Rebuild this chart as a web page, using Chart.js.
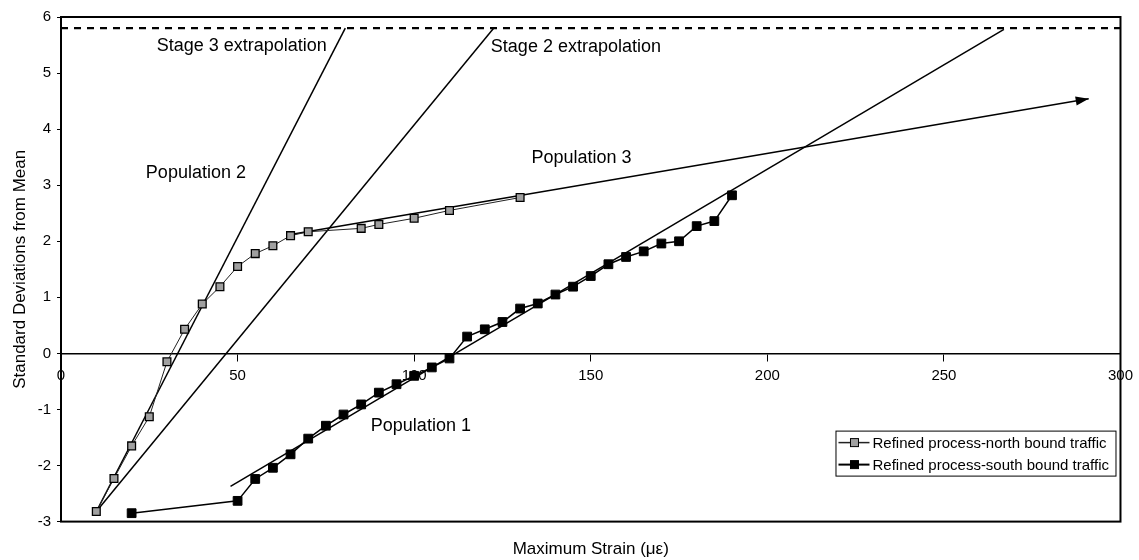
<!DOCTYPE html>
<html>
<head>
<meta charset="utf-8">
<script src="https://cdn.jsdelivr.net/npm/chart.js@4.4.1/dist/chart.umd.min.js"></script>
<style>
  html, body { margin: 0; padding: 0; background: #fff; }
  #wrap { width: 1139px; height: 560px; }
</style>
</head>
<body>
<div id="wrap"><canvas id="chart"></canvas></div>
<script>
/* **** DATA **** */

// refined process, north bound traffic
const northStrain = [10, 15, 20, 25, 30, 35, 40, 45, 50, 55, 60, 65, 70, 85, 90, 100, 110, 130];
const northSd = [-2.82, -2.23, -1.65, -1.13, -0.15, 0.43, 0.88, 1.19, 1.55, 1.78, 1.92, 2.10, 2.17, 2.23, 2.30, 2.41, 2.55, 2.78];

// refined process, south bound traffic
const southStrain = [20, 50, 55, 60, 65, 70, 75, 80, 85, 90, 95, 100, 105, 110, 115, 120, 125, 130, 135, 140, 145, 150, 155, 160, 165, 170, 175, 180, 185, 190];
const southSd = [-2.85, -2.63, -2.24, -2.04, -1.80, -1.52, -1.29, -1.09, -0.91, -0.70, -0.55, -0.40, -0.25, -0.09, 0.30, 0.43, 0.56, 0.80, 0.89, 1.05, 1.19, 1.38, 1.59, 1.72, 1.82, 1.96, 2.00, 2.27, 2.36, 2.82];

// fitted lines (two end points each)
const stage3X = [10, 80.5];
const stage3Y = [-2.82, 5.8];
const stage2X = [10, 122.5];
const stage2Y = [-2.82, 5.8];
const pop1X = [48, 267];
const pop1Y = [-2.37, 5.78];
const pop3X = [65, 291];
const pop3Y = [2.12, 4.54];
const limitX = [0, 300];
const limitY = [5.8, 5.8];

const labels = [
    {text: 'Stage 3 extrapolation', x: 51.2, y: 5.48},
    {text: 'Stage 2 extrapolation', x: 145.8, y: 5.47},
    {text: 'Population 2', x: 38.2, y: 3.21},
    {text: 'Population 3', x: 147.4, y: 3.48},
    {text: 'Population 1', x: 101.9, y: -1.29}
];

/* **** MAIN **** */

const FONT = 'Arial, "Liberation Sans", sans-serif';
const pts = (xs, ys) => xs.map((x, i) => ({x: x, y: ys[i]}));

const fitLine = (xs, ys, extra) => Object.assign({
    data: pts(xs, ys),
    showLine: true,
    borderColor: '#000',
    borderWidth: 1.5,
    pointRadius: 0,
    fill: false
}, extra || {});

// box round the plot area
const framePlugin = {
    id: 'frame',
    beforeDatasetsDraw(chart) {
        const {ctx, chartArea: a} = chart;
        ctx.save();
        ctx.strokeStyle = '#000';
        ctx.lineWidth = 2;
        ctx.strokeRect(a.left, a.top, a.right - a.left, a.bottom - a.top);
        ctx.restore();
    }
};

// arrow head on the end of a line
const arrowPlugin = {
    id: 'arrowHead',
    afterDatasetsDraw(chart) {
        const ctx = chart.ctx;
        chart.data.datasets.forEach((d, i) => {
            if (!d.arrow) return;
            const el = chart.getDatasetMeta(i).data;
            const a = el[el.length - 2], b = el[el.length - 1];
            const ang = Math.atan2(b.y - a.y, b.x - a.x);
            ctx.save();
            ctx.translate(b.x, b.y);
            ctx.rotate(ang);
            ctx.fillStyle = '#000';
            ctx.beginPath();
            ctx.moveTo(0, 0);
            ctx.lineTo(-13, -4.5);
            ctx.lineTo(-13, 4.5);
            ctx.closePath();
            ctx.fill();
            ctx.restore();
        });
    }
};

// text labels in data coordinates
const labelPlugin = {
    id: 'textLabels',
    afterDatasetsDraw(chart) {
        const {ctx, scales} = chart;
        ctx.save();
        ctx.fillStyle = '#000';
        ctx.font = '18px ' + FONT;
        ctx.textAlign = 'center';
        ctx.textBaseline = 'middle';
        labels.forEach(l => {
            ctx.fillText(l.text, scales.x.getPixelForValue(l.x), scales.y.getPixelForValue(l.y));
        });
        ctx.restore();
    }
};

// legend box in the lower right corner of the plot
const legendPlugin = {
    id: 'boxLegend',
    afterDraw(chart) {
        const {ctx, chartArea} = chart;
        const items = chart.data.datasets.filter(d => d.inLegend);
        const w = 280, rowH = 22, h = items.length * rowH + 1;
        const right = chartArea.right - 5, bottom = chartArea.bottom - 46;
        const left = right - w, top = bottom - h;
        ctx.save();
        ctx.fillStyle = '#fff';
        ctx.fillRect(left, top, w, h);
        ctx.strokeStyle = '#000';
        ctx.lineWidth = 1;
        ctx.strokeRect(left + 0.5, top + 0.5, w, h);
        items.forEach((d, i) => {
            const y = top + 1 + rowH * (i + 0.5);
            ctx.strokeStyle = d.borderColor;
            ctx.lineWidth = d.borderWidth + 0.5;
            ctx.beginPath();
            ctx.moveTo(left + 3, y);
            ctx.lineTo(left + 34, y);
            ctx.stroke();
            const s = 8;
            ctx.fillStyle = d.pointBackgroundColor;
            ctx.fillRect(left + 19 - s / 2, y - s / 2, s, s);
            ctx.strokeStyle = d.pointBorderColor;
            ctx.lineWidth = 1;
            ctx.strokeRect(left + 19 - s / 2, y - s / 2, s, s);
            ctx.fillStyle = '#000';
            ctx.font = '15px ' + FONT;
            ctx.textAlign = 'left';
            ctx.textBaseline = 'middle';
            ctx.fillText(d.label, left + 37, y + 1);
        });
        ctx.restore();
    }
};

const canvas = document.getElementById('chart');
const chart = new Chart(canvas, {
    type: 'scatter',
    data: {
        datasets: [{
            label: 'Refined process-north bound traffic',
            inLegend: true,
            data: pts(northStrain, northSd),
            showLine: true,
            borderColor: '#222',
            borderWidth: 1,
            pointStyle: 'rect',
            pointRadius: 5.5,
            pointBackgroundColor: '#a0a0a0',
            pointBorderColor: '#000',
            pointBorderWidth: 1.3
        },
        {
            label: 'Refined process-south bound traffic',
            inLegend: true,
            data: pts(southStrain, southSd),
            showLine: true,
            borderColor: '#000',
            borderWidth: 1.5,
            pointStyle: 'rect',
            pointRadius: 6.2,
            pointBackgroundColor: '#000',
            pointBorderColor: '#000',
            pointBorderWidth: 1
        },
        fitLine(stage3X, stage3Y, {label: 'Stage 3 extrapolation'}),
        fitLine(stage2X, stage2Y, {label: 'Stage 2 extrapolation'}),
        fitLine(pop1X, pop1Y, {label: 'Population 1'}),
        fitLine(pop3X, pop3Y, {label: 'Population 3', arrow: true}),
        fitLine(limitX, limitY, {label: 'Limit', borderWidth: 2.2, borderDash: [7, 6]})
        ]
    },
    options: {
        responsive: true,
        maintainAspectRatio: false,
        animation: false,
        devicePixelRatio: 1,
        layout: {padding: {left: 0, top: 17, right: 18, bottom: 0}},
        plugins: {
            legend: {display: false},
            tooltip: {enabled: false},
            title: {
                display: true,
                text: 'Maximum Strain (\u03bc\u03b5)',
                position: 'bottom',
                fullSize: false,
                color: '#000',
                font: {family: FONT, size: 17, weight: 'normal'},
                padding: {top: 18, bottom: 0}
            }
        },
        scales: {
            x: {
                type: 'linear',
                position: {y: 0},
                min: 0,
                max: 300,
                ticks: {stepSize: 50, color: '#000', font: {family: FONT, size: 15}, padding: 6, maxRotation: 0},
                grid: {display: true, drawOnChartArea: false, drawTicks: true, tickLength: 7, color: '#000'},
                border: {display: true, color: '#000', width: 1.5}
            },
            y: {
                type: 'linear',
                min: -3,
                max: 6,
                ticks: {stepSize: 1, color: '#000', font: {family: FONT, size: 15}, padding: 6},
                grid: {display: true, drawOnChartArea: false, drawTicks: true, tickLength: 4, color: '#000'},
                border: {display: true, color: '#000', width: 2},
                title: {
                    display: true,
                    text: 'Standard Deviations from Mean',
                    color: '#000',
                    font: {family: FONT, size: 17},
                    padding: {top: 10, bottom: 0}
                },
                afterFit(scale) { scale.width = 61; }
            }
        }
    },
    plugins: [framePlugin, arrowPlugin, labelPlugin, legendPlugin]
});
</script>
</body>
</html>
